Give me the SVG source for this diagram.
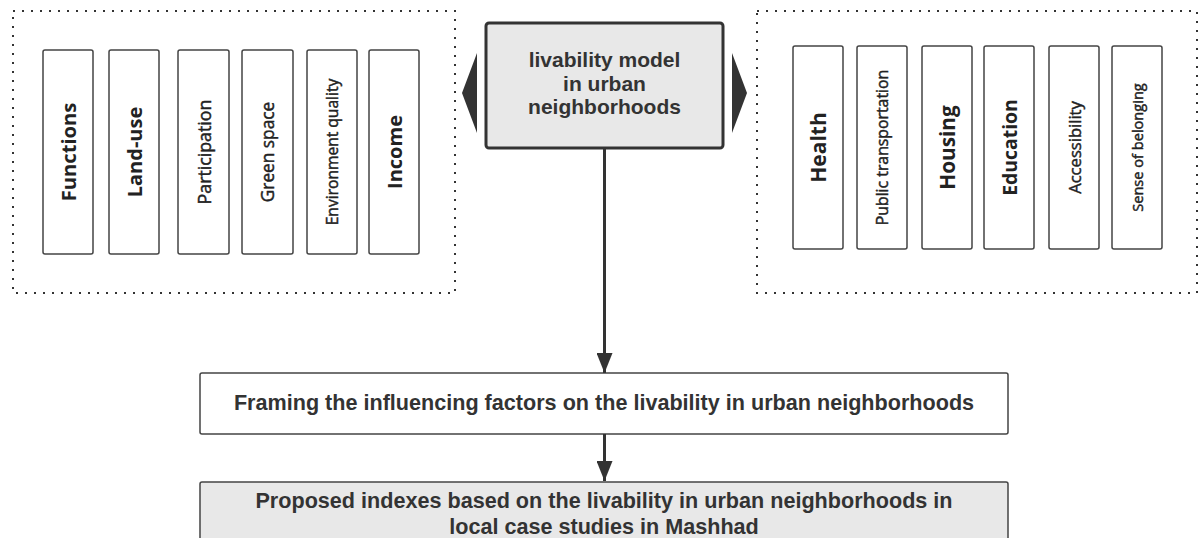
<svg xmlns="http://www.w3.org/2000/svg" width="1199" height="538" viewBox="0 0 1199 538">
<style>
.dots{fill:none;stroke:#333;stroke-width:2;stroke-dasharray:2 7}
.item{fill:#fff;stroke:#444;stroke-width:1.5}
.lbl{font-family:"Open Sans","DejaVu Sans",sans-serif;fill:#222;text-anchor:middle;dominant-baseline:central}
.big{font-weight:700}
.semi{font-weight:400;stroke:#222;stroke-width:0.45}
.main{font-family:"Liberation Sans",Arial,sans-serif;font-weight:700;fill:#333;text-anchor:middle}
.conn{stroke:#333;stroke-width:3;fill:none}
</style>
<defs>
<marker id="ah" markerWidth="20" markerHeight="16" refX="20" refY="8" orient="auto" markerUnits="userSpaceOnUse" viewBox="0 0 20 16">
<path d="M0,0 L20,8 L0,16 Z" fill="#333"/>
</marker>
</defs>
<rect width="1199" height="538" fill="#fff"/>
<g id="left-group">
<rect class="dots" x="13" y="11" width="442" height="282"/>
<g id="n-functions"><rect class="item" x="43" y="50" width="50" height="204" rx="2"/><text class="lbl big" font-size="20.2" transform="translate(68,152) rotate(-90)">Functions</text></g>
<g id="n-landuse"><rect class="item" x="109" y="50" width="50" height="204" rx="2"/><text class="lbl big" font-size="20" transform="translate(134,152) rotate(-90)">Land-use</text></g>
<g id="n-participation"><rect class="item" x="178" y="50" width="51" height="204" rx="2"/><text class="lbl semi" font-size="17.8" transform="translate(203.5,152) rotate(-90)">Participation</text></g>
<g id="n-green"><rect class="item" x="242" y="50" width="51" height="204" rx="2"/><text class="lbl semi" font-size="17.3" transform="translate(267.5,152) rotate(-90)">Green space</text></g>
<g id="n-env"><rect class="item" x="307" y="50" width="50" height="204" rx="2"/><text class="lbl semi" font-size="15.6" transform="translate(332,152) rotate(-90)">Environment quality</text></g>
<g id="n-income"><rect class="item" x="369" y="50" width="50" height="204" rx="2"/><text class="lbl big" font-size="20" transform="translate(394,152) rotate(-90)">Income</text></g>
</g>
<g id="right-group">
<rect class="dots" x="757" y="11" width="440" height="282"/>
<g id="n-health"><rect class="item" x="793" y="46" width="50" height="203" rx="2"/><text class="lbl big" font-size="21" transform="translate(818,147.5) rotate(-90)">Health</text></g>
<g id="n-public"><rect class="item" x="857" y="46" width="50" height="203" rx="2"/><text class="lbl semi" font-size="15.8" transform="translate(882,147.5) rotate(-90)">Public transportation</text></g>
<g id="n-housing"><rect class="item" x="922" y="46" width="50" height="203" rx="2"/><text class="lbl big" font-size="20.8" transform="translate(947,147.5) rotate(-90)">Housing</text></g>
<g id="n-education"><rect class="item" x="984" y="46" width="50" height="203" rx="2"/><text class="lbl big" font-size="19.4" transform="translate(1009,147.5) rotate(-90)">Education</text></g>
<g id="n-access"><rect class="item" x="1049" y="46" width="50" height="203" rx="2"/><text class="lbl semi" font-size="16.6" transform="translate(1074,147.5) rotate(-90)">Accessibility</text></g>
<g id="n-sense"><rect class="item" x="1112" y="46" width="50" height="203" rx="2"/><text class="lbl semi" font-size="14.6" transform="translate(1137,147.5) rotate(-90)">Sense of belonging</text></g>
</g>
<g id="n-model">
<rect x="486" y="23" width="237" height="125" rx="3" fill="#e8e8e8" stroke="#333" stroke-width="3"/>
<text class="main" font-size="21" x="604.5" y="67">livability model</text>
<text class="main" font-size="21" x="604.5" y="91">in urban</text>
<text class="main" font-size="21" x="604.5" y="114">neighborhoods</text>
</g>
<g id="n-framing">
<rect x="200" y="373" width="808" height="61" rx="2" fill="#fff" stroke="#444" stroke-width="1.5"/>
<text class="main" font-size="21.6" x="604" y="410">Framing the influencing factors on the livability in urban neighborhoods</text>
</g>
<g id="n-proposed">
<rect x="200" y="482" width="808" height="70" rx="2" fill="#e8e8e8" stroke="#444" stroke-width="1.5"/>
<text class="main" font-size="21.6" x="604" y="508">Proposed indexes based on the livability in urban neighborhoods in</text>
<text class="main" font-size="21.6" x="604" y="534">local case studies in Mashhad</text>
</g>
<g id="connectors">
<polygon points="477,53 462,93 477,133" fill="#333"/>
<polygon points="732,53 747,93 732,133" fill="#333"/>
<line class="conn" x1="604.5" y1="148" x2="604.5" y2="373" marker-end="url(#ah)"/>
<line class="conn" x1="604.5" y1="434" x2="604.5" y2="481" marker-end="url(#ah)"/>
</g>
</svg>
